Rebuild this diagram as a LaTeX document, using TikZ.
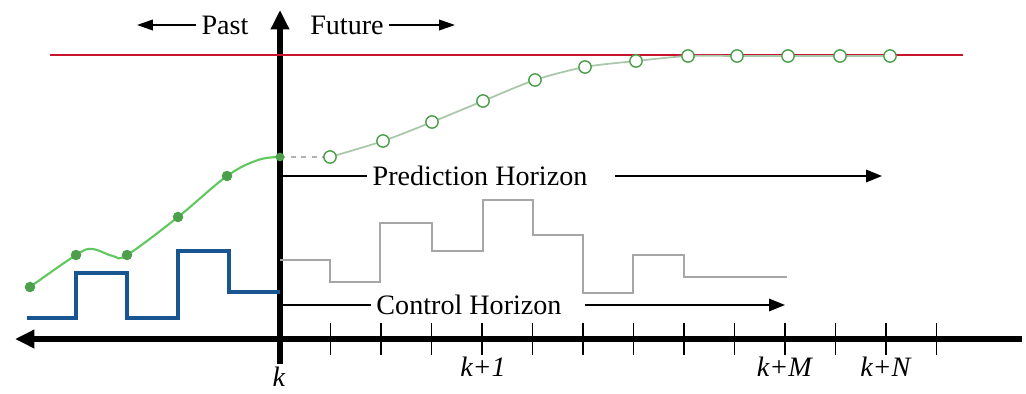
\documentclass[tikz,border=0pt]{standalone}
\usepackage{fontspec}
\setmainfont{Liberation Serif}
\usetikzlibrary{arrows.meta}
\definecolor{setred}{RGB}{200,20,45}
\definecolor{outgreen}{RGB}{95,200,95}
\definecolor{ctrlblue}{RGB}{25,85,145}
\begin{document}
\begin{tikzpicture}[x=0.02cm,y=-0.02cm,font=\fontsize{16}{19}\selectfont,inner sep=3pt,
    axis/.style={line width=3pt,-{Triangle[length=11pt,width=10pt]}},
    tick/.style={line width=1pt},
    small arrow/.style={line width=1pt,-{Triangle[length=9pt,width=6pt]}},
    horizon/.style={line width=1.1pt,-{Triangle[length=9pt,width=7pt]}},
    pastpt/.style={circle,fill=outgreen!80!black,inner sep=0pt,minimum size=6pt},
    futpt/.style={circle,draw=outgreen!80!black,fill=white,line width=0.8pt,inner sep=0pt,minimum size=7pt}]
    \useasboundingbox (0,0) rectangle (1026,393);
    % axes
    \coordinate (w) at (15,339);
    \coordinate (e) at (1022,339);
    \coordinate (bot) at (280,364);
    \coordinate (top) at (280,10);
    \draw[axis,{Triangle[length=11pt,width=10pt]}-] (w) -- (e);
    \draw[axis] (bot) -- (top);
    \foreach \i in {1,...,13} { \draw[tick] (280+50.5*\i,323) -- (280+50.5*\i,355); }
    \node[inner sep=1pt] (lk) at (279,377) {\textit{k}};
    \node (lk1) at (483,367) {\textit{k+1}};
    \node (lkm) at (785,367) {\textit{k+M}};
    \node (lkn) at (886,367) {\textit{k+N}};
    % past / future
    \node (past) at (225,25) {Past};
    \node (future) at (347,25) {Future};
    \coordinate (pastend) at (137,25);
    \coordinate (futend) at (455,25);
    \draw[small arrow] (past) -- (pastend);
    \draw[small arrow] (future) -- (futend);
    % set point
    \coordinate (r0) at (50,55);
    \coordinate (r1) at (963,55);
    \draw[setred,line width=1.2pt] (r0) -- (r1);
    % output
    \draw[outgreen,line width=1.2pt] plot[smooth,tension=0.6] coordinates {(30,287) (76,255) (92,249) (113,256) (127,255) (178,217) (227,176) (258,160) (280,157)};
    \draw[gray!60,line width=1pt,dashed] (280,157) -- (330,157);
    \draw[gray!50!outgreen!60,line width=1pt] plot[smooth,tension=0.5] coordinates {(330,157) (383,141) (432,122) (483,101) (535,80) (585,67) (636,61) (688,56) (737,56) (788,56) (840,56) (890,56)};
    \foreach \x/\y in {30/287,76/255,127/255,178/217,227/176} { \node[pastpt] at (\x,\y) {}; }
    \node[circle,fill=outgreen!80!black,inner sep=0pt,minimum size=5pt] at (280,157) {};
    \foreach \x/\y in {330/157,383/141,432/122,483/101,535/80,585/67,636/61,688/56,737/56,788/56,840/56,890/56} { \node[futpt] at (\x,\y) {}; }
    % control moves
    \draw[ctrlblue,line width=2pt] (27,318) -| (76,273) -| (127,318) -| (178,251) -| (229,292) -- (280,292);
    \draw[gray!70,line width=1pt] (280,260) -| (330,282) -| (380,223) -| (432,251) -| (483,200) -| (533,235) -| (583,293) -| (633,255) -| (684,277) -- (787,277);
    % horizons
    \node (ph) at (480,176) {Prediction Horizon};
    \coordinate (phs) at (280,176);
    \coordinate (phe) at (882,176);
    \draw[line width=1.1pt] (phs) -- (ph);
    \draw[horizon,shorten <=0.45cm] (ph) -- (phe);
    \node (ch) at (469,305) {Control Horizon};
    \coordinate (chs) at (280,305);
    \coordinate (che) at (785,305);
    \draw[line width=1.1pt] (chs) -- (ch);
    \draw[horizon,shorten <=0.35cm] (ch) -- (che);
\end{tikzpicture}
\end{document}
